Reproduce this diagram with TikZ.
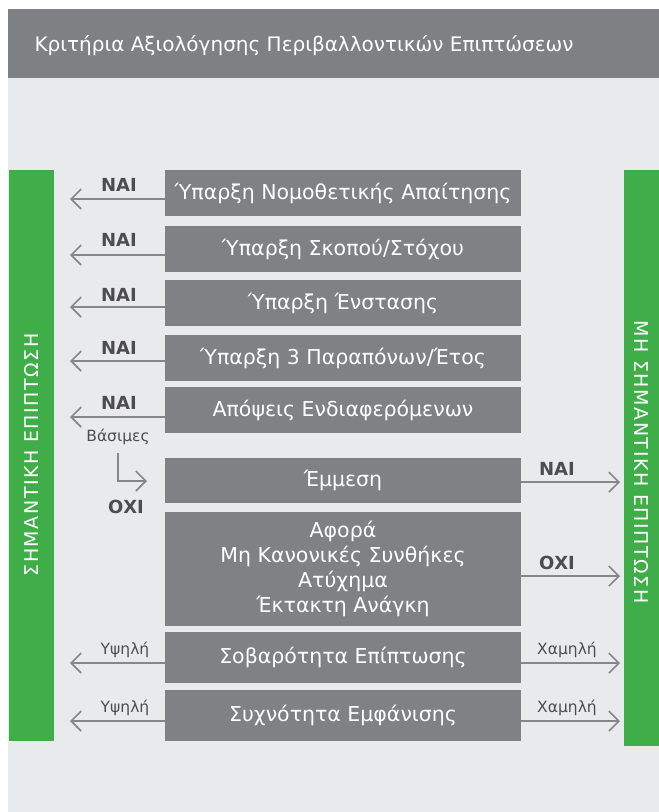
\documentclass[tikz,border=0pt]{standalone}
\usepackage{fontspec}
\setmainfont{DejaVu Sans}
\usetikzlibrary{arrows.meta}

\definecolor{headgray}{HTML}{7F8083}
\definecolor{bodygray}{HTML}{E9EAEC}
\definecolor{boxgray}{HTML}{808184}
\definecolor{impgreen}{HTML}{3FAE49}
\definecolor{labelgray}{HTML}{4D4D4F}
\definecolor{arrowgray}{HTML}{85878A}

\tikzset{
  box/.style={fill=boxgray, text=white, minimum width=356pt, inner sep=0pt,
    align=center, font=\fontsize{20.5}{25}\selectfont},
  bar/.style={fill=impgreen, minimum width=45pt, inner sep=0pt},
  bartext/.style={text=white, font=\fontsize{19}{20}\selectfont\addfontfeature{LetterSpace=8}},
  arr/.style={draw=arrowgray, line width=1.6pt,
    -{Straight Barb[length=10pt,width=20pt,line width=1.6pt]}},
  yes/.style={text=labelgray, font=\bfseries\fontsize{18}{20}\selectfont},
  lvl/.style={text=labelgray, font=\fontsize{15.5}{17}\selectfont},
}

\begin{document}
\begin{tikzpicture}[x=1pt, y=-1pt]
  \useasboundingbox (0,0) rectangle (659,812);
  \fill[white] (0,0) rectangle (659,812);

  % header and body
  \fill[bodygray] (8,78) rectangle (659,812);
  \fill[headgray] (8,9) rectangle (659,78);
  \node[anchor=base west, text=white, font=\fontsize{20}{22}\selectfont] (title) at (31,51)
    {Κριτήρια Αξιολόγησης Περιβαλλοντικών Επιπτώσεων};

  % side bars
  \node[bar, minimum height=571pt] (lbar) at (31.5,455.5) {};
  \node[bartext, rotate=90] (ltext) at (31.5,455) {ΣΗΜΑΝΤΙΚΗ ΕΠΙΠΤΩΣΗ};
  \node[bar, minimum height=576pt] (rbar) at (646.5,458) {};
  \node[bartext, rotate=-90] (rtext) at (641.5,462) {ΜΗ ΣΗΜΑΝΤΙΚΗ ΕΠΙΠΤΩΣΗ};

  % criteria leading straight to significant impact
  \foreach \i/\y/\ay/\ly/\txt in {
      1/193/199/185/{Ύπαρξη Νομοθετικής Απαίτησης},
      2/249/255/240/{Ύπαρξη Σκοπού/Στόχου},
      3/303/307/295/{Ύπαρξη Ένστασης},
      4/358/361/348/{Ύπαρξη 3 Παραπόνων/Έτος},
      5/410/417/403/{Απόψεις Ενδιαφερόμενων}} {
    \node[box, minimum height=46pt] (b\i) at (343,\y) {\txt};
    \coordinate (l\i) at (70,\ay);
    \draw[arr] (b\i.west |- l\i) -- (l\i);
    \node[yes] (n\i) at (119,\ly) {ΝΑΙ};
  }
  \node[lvl] (valid) at (118,437) {Βάσιμες};

  % indirect / special conditions
  \node[box, minimum height=45pt] (b6) at (343,480.5) {Έμμεση};
  \node[box, minimum height=114pt] (b7) at (343,569)
    {Αφορά\\Μη Κανονικές Συνθήκες\\Ατύχημα\\Έκτακτη Ανάγκη};

  \coordinate (v1) at (118,453);
  \coordinate (v2) at (147,481);
  \draw[arr] (v1) |- (v2);
  \node[yes] (no5) at (126,507) {ΟΧΙ};

  \coordinate (r6) at (620,482);
  \coordinate (r7) at (620,576);
  \draw[arr] (b6.east |- r6) -- (r6);
  \draw[arr] (b7.east |- r7) -- (r7);
  \node[yes] (n6) at (557,469) {ΝΑΙ};
  \node[yes] (no7) at (557,563) {ΟΧΙ};

  % severity and frequency
  \node[box, minimum height=51pt] (b8) at (343,657.5) {Σοβαρότητα Επίπτωσης};
  \node[box, minimum height=51pt] (b9) at (343,715.5) {Συχνότητα Εμφάνισης};

  \foreach \i/\ay/\ly in {8/663/650, 9/721/708} {
    \coordinate (l\i) at (70,\ay);
    \coordinate (r\i) at (620,\ay);
    \draw[arr] (b\i.west |- l\i) -- (l\i);
    \draw[arr] (b\i.east |- r\i) -- (r\i);
    \node[lvl] (hi\i) at (125,\ly) {Υψηλή};
    \node[lvl] (lo\i) at (567,\ly) {Χαμηλή};
  }
\end{tikzpicture}
\end{document}
